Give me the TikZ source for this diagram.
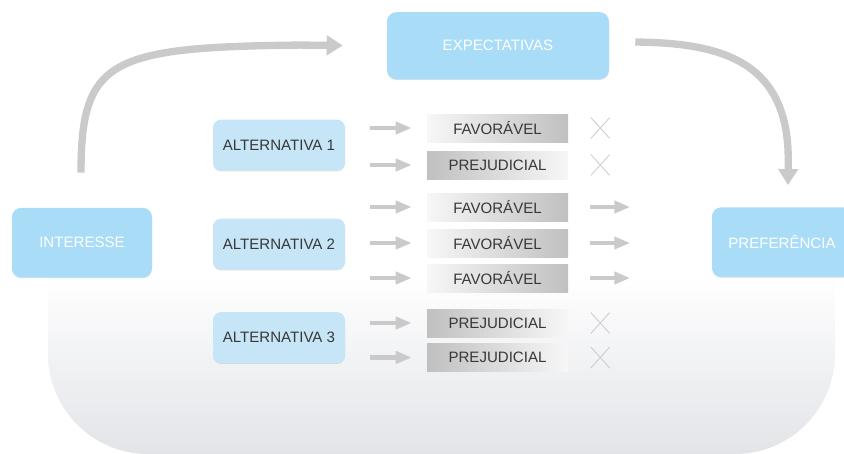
\documentclass[tikz,border=0pt]{standalone}
\usepackage{fontspec}
\setmainfont{Liberation Sans}
\usepackage{xcolor}
\usetikzlibrary{arrows.meta}
\usetikzlibrary{shapes.misc}
\usetikzlibrary{shadows}

\definecolor{boxblue}{HTML}{A9DCF7}
\definecolor{altblue}{HTML}{C6E6F8}
\definecolor{arrowgray}{HTML}{CACACA}
\definecolor{resgray}{HTML}{C0C0C0}
\definecolor{reslight}{HTML}{F7F7F7}
\definecolor{bggray}{HTML}{E2E4E8}
\definecolor{textgray}{HTML}{383838}

\tikzset{
  bigbox/.style={fill=boxblue, rounded corners=7pt, text=white, text centered,
    minimum width=105pt, minimum height=52pt, font=\fontsize{11.3}{13}\selectfont,
    drop shadow={shadow xshift=0pt, shadow yshift=-0.8pt, fill=boxblue!70!gray, opacity=0.5}},
  altbox/.style={fill=altblue, rounded corners=6pt, text=textgray, text centered,
    minimum width=99pt, minimum height=38pt, font=\fontsize{11.3}{13}\selectfont,
    drop shadow={shadow xshift=0pt, shadow yshift=-0.8pt, fill=altblue!70!gray, opacity=0.5}},
  resfav/.style={left color=reslight, right color=resgray, text=textgray,
    minimum width=105.75pt, minimum height=21pt, font=\fontsize{11.3}{13}\selectfont},
  resprej/.style={resfav, left color=resgray, right color=reslight},
  xmark/.style={cross out, draw=arrowgray, line width=0.6pt, inner sep=0pt,
    minimum width=13.5pt, minimum height=15pt},
  bigarrow/.style={draw=arrowgray, line width=5.5pt,
    -{Triangle[length=12pt, width=14.5pt]}},
  smallarrow/.style={draw=arrowgray, line width=3.5pt,
    -{Triangle[length=12pt, width=9pt]}}
}

\begin{document}
\begin{tikzpicture}[x=0.75pt, y=-0.75pt]
  \useasboundingbox (0,0) rectangle (844,454);

  % background
  \shade[top color=white, middle color=bggray!45, bottom color=bggray] (48,276) [rounded corners=75pt]
    -- (48,454) -- (835,454) [sharp corners] -- (835,276) -- cycle;

  \node[bigbox, minimum width=166.5pt, minimum height=50pt] (expect) at (498,45.5) {EXPECTATIVAS};
  \node[bigbox] (interesse) at (82,242.5) {INTERESSE};
  \node[bigbox] (pref) at (782,242) {PREFERÊNCIA};

  \node[altbox] (alt1) at (279,145) {ALTERNATIVA 1};
  \node[altbox] (alt2) at (279,244) {ALTERNATIVA 2};
  \node[altbox] (alt3) at (279,337.5) {ALTERNATIVA 3};

  \node[resfav] (r1) at (497.5,128) {FAVORÁVEL};
  \node[resprej] (r2) at (497.5,165) {PREJUDICIAL};
  \node[resfav] (r3) at (497.5,207) {FAVORÁVEL};
  \node[resfav] (r4) at (497.5,243) {FAVORÁVEL};
  \node[resfav] (r5) at (497.5,278) {FAVORÁVEL};
  \node[resprej] (r6) at (497.5,323) {PREJUDICIAL};
  \node[resprej] (r7) at (497.5,357.5) {PREJUDICIAL};

  \foreach \r/\x in {r1/x1, r2/x2, r6/x6, r7/x7}
    \node[xmark] (\x) at ([xshift=24pt]\r.east) {};

  \foreach \r in {r1,r2,r3,r4,r5,r6,r7}
    \draw[smallarrow] (\r.west) ++(-57,0) -- ++(42,0);
  \foreach \r in {r3,r4,r5}
    \draw[smallarrow] (\r.east) ++(22,0) -- ++(40,0);

  \draw[bigarrow] (interesse.north) ++(-1,-35)
    .. controls +(0,-113) and +(-190,2) .. ++(219,-127.5)
    -- ([xshift=-33pt]expect.west);
  \draw[bigarrow] (expect.east) ++(26,-3.5)
    .. controls +(85,1) and +(0,-100) .. ++(153,118)
    -- ([xshift=4.5pt, yshift=16.5pt]pref.north);
\end{tikzpicture}
\end{document}
